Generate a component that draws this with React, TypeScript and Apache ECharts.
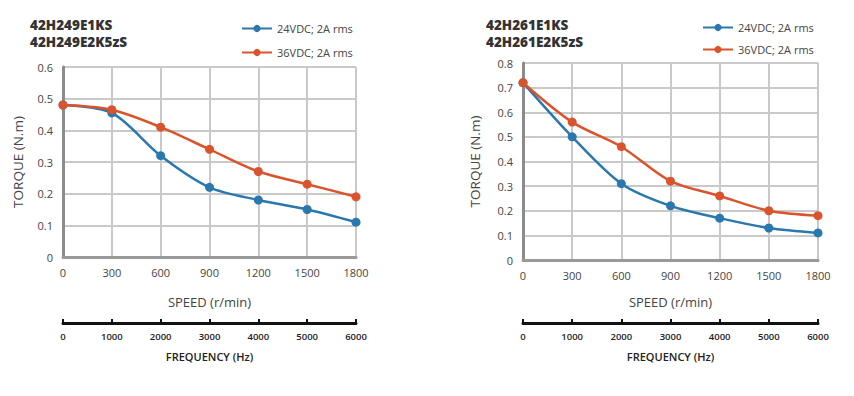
import React, { useEffect, useRef } from "react";
import * as echarts from "echarts";

const speeds = [0, 300, 600, 900, 1200, 1500, 1800];
const freqTicks = [0, 1000, 2000, 3000, 4000, 5000, 6000];
const seriesNames = ["24VDC; 2A rms", "36VDC; 2A rms"];

const leftTitle = ["42H249E1KS", "42H249E2K5zS"];
const left24 = [0.48, 0.455, 0.32, 0.22, 0.18, 0.15, 0.11];
const left36 = [0.48, 0.465, 0.41, 0.34, 0.27, 0.23, 0.19];

const rightTitle = ["42H261E1KS", "42H261E2K5zS"];
const right24 = [0.72, 0.5, 0.31, 0.22, 0.17, 0.13, 0.11];
const right36 = [0.72, 0.56, 0.46, 0.32, 0.26, 0.2, 0.18];

const BLUE = "#2a78ae";
const ORANGE = "#d9542c";

export default function App() {
  const ref = useRef<HTMLDivElement>(null);
  useEffect(() => {
    if (!ref.current) return;
    const chart = echarts.init(ref.current, null, { renderer: "svg" });
    const font = "'Open Sans', 'Noto Sans', sans-serif";
    const grids = [
      { left: 63, top: 67, width: 293, height: 190 },
      { left: 523, top: 63, width: 295, height: 197 },
    ];
    const yMax = [0.6, 0.8];
    const yNameGap = [38, 41];
    const freqOffset = [66, 63];
    const mkPairs = (vals: number[]) => speeds.map((s, i) => [s, vals[i]]);

    const xAxes: any[] = [];
    const yAxes: any[] = [];
    grids.forEach((g, gi) => {
      xAxes.push({
        type: "value",
        gridIndex: gi,
        min: speeds[0],
        max: speeds[speeds.length - 1],
        interval: 300,
        position: "bottom",
        name: "SPEED (r/min)",
        nameLocation: "middle",
        nameGap: 38 + (gi === 0 ? 0 : -3),
        nameTextStyle: { color: "#444", fontSize: 13, fontFamily: font },
        axisLine: { show: true, onZero: false, lineStyle: { color: "#999", width: 3 } },
        axisTick: { show: false },
        axisLabel: {
          color: "#444",
          fontSize: 11,
          margin: 10,
          fontFamily: font,
          formatter: (v: number) => String(v),
        },
        splitLine: { show: true, lineStyle: { color: "#c9c9c9", width: 2 } },
      });
      xAxes.push({
        type: "value",
        gridIndex: gi,
        min: freqTicks[0],
        max: freqTicks[freqTicks.length - 1],
        interval: 1000,
        position: "bottom",
        offset: freqOffset[gi],
        name: "FREQUENCY (Hz)",
        nameLocation: "middle",
        nameGap: 28,
        nameTextStyle: { color: "#222", fontSize: 11, fontWeight: 600, fontFamily: font },
        axisLine: { show: true, onZero: false, lineStyle: { color: "#111", width: 3 } },
        axisTick: { show: true, inside: true, length: 4, lineStyle: { color: "#111", width: 2 } },
        axisLabel: {
          color: "#222",
          fontSize: 9.5,
          fontWeight: 600,
          margin: 8,
          fontFamily: font,
          formatter: (v: number) => String(v),
        },
        splitLine: { show: false },
      });
      yAxes.push({
        type: "value",
        gridIndex: gi,
        min: 0,
        max: yMax[gi],
        interval: 0.1,
        name: "TORQUE (N.m)",
        nameLocation: "middle",
        nameGap: yNameGap[gi],
        nameRotate: 90,
        nameTextStyle: { color: "#444", fontSize: 13.5, fontFamily: font },
        axisLine: { show: true, lineStyle: { color: "#8c8c8c", width: 3 } },
        axisTick: { show: false },
        axisLabel: {
          color: "#444",
          fontSize: 11,
          margin: 10,
          fontFamily: font,
          formatter: (v: number) => (v === 0 ? "0" : v.toFixed(1)),
        },
        splitLine: { show: true, lineStyle: { color: "#c9c9c9", width: 2 } },
      });
    });

    const mkSeries = (name: string, vals: number[], color: string, gi: number) => ({
      type: "line",
      name,
      xAxisIndex: gi * 2,
      yAxisIndex: gi,
      data: mkPairs(vals),
      smooth: 0.3,
      symbol: "circle",
      symbolSize: 9,
      lineStyle: { color, width: 2.5 },
      itemStyle: { color },
      z: color === BLUE ? 3 : 4,
    });

    const titleStyle = {
      color: "#333",
      fontSize: 13.5,
      fontWeight: 900,
      lineHeight: 16,
      fontFamily: "'Open Sans', 'Noto Sans', sans-serif",
    };
    const legendBase = {
      orient: "vertical",
      itemWidth: 30,
      itemHeight: 9,
      textStyle: { color: "#444", fontSize: 11, fontFamily: font },
      data: seriesNames,
      selectedMode: false,
    };

    chart.setOption({
      animation: false,
      backgroundColor: "#fff",
      title: [
        { text: leftTitle[0], left: 30, top: 17, padding: 0, textStyle: titleStyle },
        { text: leftTitle[1], left: 30, top: 34, padding: 0, textStyle: titleStyle },
        { text: rightTitle[0], left: 486, top: 17, padding: 0, textStyle: titleStyle },
        { text: rightTitle[1], left: 486, top: 34, padding: 0, textStyle: titleStyle },
      ],
      legend: [
        { ...legendBase, left: 236, top: 18, itemGap: 13 },
        { ...legendBase, left: 697, top: 17, itemGap: 11 },
      ],
      grid: grids.map((g) => ({ ...g, containLabel: false })),
      xAxis: xAxes,
      yAxis: yAxes,
      series: [
        mkSeries(seriesNames[0], left24, BLUE, 0),
        mkSeries(seriesNames[1], left36, ORANGE, 0),
        mkSeries(seriesNames[0], right24, BLUE, 1),
        mkSeries(seriesNames[1], right36, ORANGE, 1),
      ],
    });
    return () => chart.dispose();
  }, []);
  return (
    <div
      ref={ref}
      style={{ position: "fixed", left: 0, top: 0, width: 854, height: 396, background: "#fff" }}
    />
  );
}
